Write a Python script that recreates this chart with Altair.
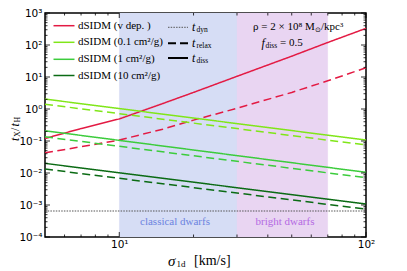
import altair as alt
import pandas as pd

W, H = 321, 224
SERIF = "Liberation Serif"
SANS = "DejaVu Sans"

# ---- data ----
sigma_red = [5, 7, 10, 15, 20, 30, 50, 70, 100]
red_diss = [0.120, 0.245, 0.49, 1.48, 3.3, 10.5, 44.7, 120, 331]
red_relax = [0.043, 0.066, 0.107, 0.234, 0.45, 1.05, 3.3, 7.6, 19.5]

sigma_ends = [5, 100]
light_diss = [2.04, 0.107]
light_relax = [1.41, 0.075]
mid_diss = [0.209, 0.0105]
mid_relax = [0.135, 0.0071]
dark_diss = [0.020, 0.00107]
dark_relax = [0.0133, 0.00074]
t_dyn = [6.5e-4, 6.5e-4]

series_names = ["dSIDM (v dep. )", "dSIDM (0.1 cm²/g)", "dSIDM (1 cm²/g)", "dSIDM (10 cm²/g)"]
series_colors = ["#e31a43", "#80e619", "#3ccc3c", "#0b6b14"]

band_names = ["classical dwarfs", "bright dwarfs"]
band_start = [10, 30]
band_end = [30, 70]
band_fill = ["#d6ddf5", "#e9d5f2"]
band_text = ["#6b83e0", "#b469e3"]

y_major = [1e-4, 1e-3, 1e-2, 1e-1, 1, 10, 100, 1000]
y_minor = [k * 10.0 ** e for e in range(-4, 3) for k in range(2, 10)]
x_major = [10, 100]
x_minor = [6, 7, 8, 9, 20, 30, 40, 50, 60, 70, 80, 90]

# ---- tables ----
rows = []
for s, v in zip(sigma_red, red_diss):
    rows.append((series_names[0], "diss", s, v))
for s, v in zip(sigma_red, red_relax):
    rows.append((series_names[0], "relax", s, v))
for name, d, r in [(series_names[1], light_diss, light_relax),
                   (series_names[2], mid_diss, mid_relax),
                   (series_names[3], dark_diss, dark_relax)]:
    for s, v in zip(sigma_ends, d):
        rows.append((name, "diss", s, v))
    for s, v in zip(sigma_ends, r):
        rows.append((name, "relax", s, v))
lines_df = pd.DataFrame(rows, columns=["series", "kind", "sigma", "t"])

xscale = alt.Scale(type="log", domain=[5, 100], nice=False)
yscale = alt.Scale(type="log", domain=[1e-4, 1e3], nice=False)

ylabels = "['10⁻⁴','10⁻³','10⁻²','10⁻¹','10⁰','10¹','10²','10³'][round(log(datum.value)/LN10)+4]"
xlabels = "['10¹','10²'][round(log(datum.value)/LN10)-1]"

bands_df = pd.DataFrame({"name": band_names, "x0": band_start, "x1": band_end, "fill": band_fill})
bands = alt.Chart(bands_df).mark_rect(strokeWidth=0.8, strokeOpacity=0.25).encode(
    x=alt.X("x0:Q", scale=xscale,
            axis=alt.Axis(values=x_major, labelExpr=xlabels, ticks=False, domain=False, grid=False,
                          title=None, labelFlush=False, labelPadding=2, labelFont=SANS,
                          labelFontSize=10.5, labelFontWeight=500, labelColor="black")),
    x2="x1:Q",
    y=alt.value(0), y2=alt.value(H),
    color=alt.Color("fill:N", scale=None),
    stroke=alt.Color("fill:N", scale=None),
)

dyn_df = pd.DataFrame({"sigma": sigma_ends, "t": t_dyn})
dyn = alt.Chart(dyn_df).mark_line(color="#555555", strokeWidth=1.1, strokeDash=[1.5, 1.2]).encode(
    x=alt.X("sigma:Q", scale=xscale),
    y=alt.Y("t:Q", scale=yscale,
            axis=alt.Axis(values=y_major, labelExpr=ylabels, ticks=False, domain=False, grid=False,
                          title=None, labelPadding=3, labelFont=SANS, labelFontSize=10.5,
                          labelFontWeight=500, labelColor="black")),
)

lines = alt.Chart(lines_df).mark_line(strokeWidth=1.5).encode(
    x=alt.X("sigma:Q", scale=xscale),
    y=alt.Y("t:Q", scale=yscale),
    color=alt.Color("series:N", scale=alt.Scale(domain=series_names, range=series_colors), legend=None),
    strokeDash=alt.StrokeDash("kind:N", scale=alt.Scale(domain=["diss", "relax"], range=[[1, 0], [8, 4.5]]),
                              legend=None),
)

# ---- inward ticks on all four sides ----
def yticks(vals, length):
    df = pd.DataFrame({"v": vals})
    left = alt.Chart(df).mark_rule(color="black", strokeWidth=0.8).encode(
        y=alt.Y("v:Q", scale=yscale), x=alt.value(0), x2=alt.value(length))
    right = alt.Chart(df).mark_rule(color="black", strokeWidth=0.8).encode(
        y=alt.Y("v:Q", scale=yscale), x=alt.value(W), x2=alt.value(W - length))
    return [left, right]

def xticks(vals, length):
    df = pd.DataFrame({"v": vals})
    bottom = alt.Chart(df).mark_rule(color="black", strokeWidth=0.8).encode(
        x=alt.X("v:Q", scale=xscale), y=alt.value(H), y2=alt.value(H - length))
    top = alt.Chart(df).mark_rule(color="black", strokeWidth=0.8).encode(
        x=alt.X("v:Q", scale=xscale), y=alt.value(0), y2=alt.value(length))
    return [bottom, top]

ticks = yticks(y_major, 5) + yticks(y_minor, 2.5) + xticks(x_major, 5) + xticks(x_minor, 2.5)


def txt(s, x, y, size=10, font=SERIF, style="normal", color="black", align="left", angle=0):
    return alt.Chart(pd.DataFrame({"t": [s]})).mark_text(
        align=align, baseline="middle", font=font, fontSize=size, fontStyle=style,
        color=color, angle=angle).encode(x=alt.value(x), y=alt.value(y), text="t:N")


def seg(x0, x1, y, color, dash=None, width=1.5):
    kw = dict(color=color, strokeWidth=width)
    if dash:
        kw["strokeDash"] = dash
    return alt.Chart(pd.DataFrame({"a": [0]})).mark_rule(**kw).encode(
        x=alt.value(x0), x2=alt.value(x1), y=alt.value(y))


deco = []
# legend column 1
leg_y = [12.7, 29.3, 46.3, 62.5]
for name, col, yy in zip(series_names, series_colors, leg_y):
    deco.append(seg(8.5, 29.5, yy, col))
    deco.append(txt(name, 33, yy, size=11))
# legend column 2
kind_sub = ["dyn", "relax", "diss"]
kind_dash = [[1.5, 1.2], [8, 4], None]
kind_width = [1.0, 2.0, 2.0]
kind_col = ["#555555", "black", "black"]
leg2_y = [14.3, 30.3, 45.0]
for sub, dash, wd, col, yy in zip(kind_sub, kind_dash, kind_width, kind_col, leg2_y):
    deco.append(seg(123, 143, yy, col, dash, wd))
    deco.append(txt("t", 147, yy, size=12, style="italic"))
    deco.append(txt(sub, 151.5, yy + 3, size=7.5))

# annotation
deco.append(txt("ρ = 2 × 10⁸ M", 208, 14.3, size=11))
deco.append(txt("⊙", 270, 17, size=7))
deco.append(txt("/kpc³", 276, 14.3, size=11))
deco.append(txt("f", 216.5, 29.7, size=12, style="italic"))
deco.append(txt("diss", 220.5, 32.7, size=7.5))
deco.append(txt("= 0.5", 235, 29.7, size=11))

# band labels
deco.append(txt(band_names[0], 130, 208.7, size=11, color=band_text[0], align="center"))
deco.append(txt(band_names[1], 240, 208.7, size=11, color=band_text[1], align="center"))

# axis titles
deco.append(txt("σ", 123, 248, size=15, style="italic"))
deco.append(txt("1d", 131.5, 251, size=9))
deco.append(txt("[km/s]", 149, 248, size=14))

yx = -30.5
deco.append(txt("t", yx, 128, size=12, style="italic", angle=270))
deco.append(txt("X", yx + 3, 124, size=8, angle=270))
deco.append(txt("/", yx, 118, size=12, angle=270))
deco.append(txt("t", yx, 113.5, size=12, style="italic", angle=270))
deco.append(txt("H", yx + 3, 109.5, size=8, angle=270))

chart = alt.layer(bands, dyn, lines, *ticks, *deco).properties(
    width=W, height=H,
    autosize=alt.AutoSizeParams(type="none"),
    padding={"left": 37, "top": 5, "right": 33, "bottom": 34},
).configure_view(stroke="black", strokeWidth=1.5)

chart.save("out.html", embed_options={"renderer": "svg", "actions": False})
